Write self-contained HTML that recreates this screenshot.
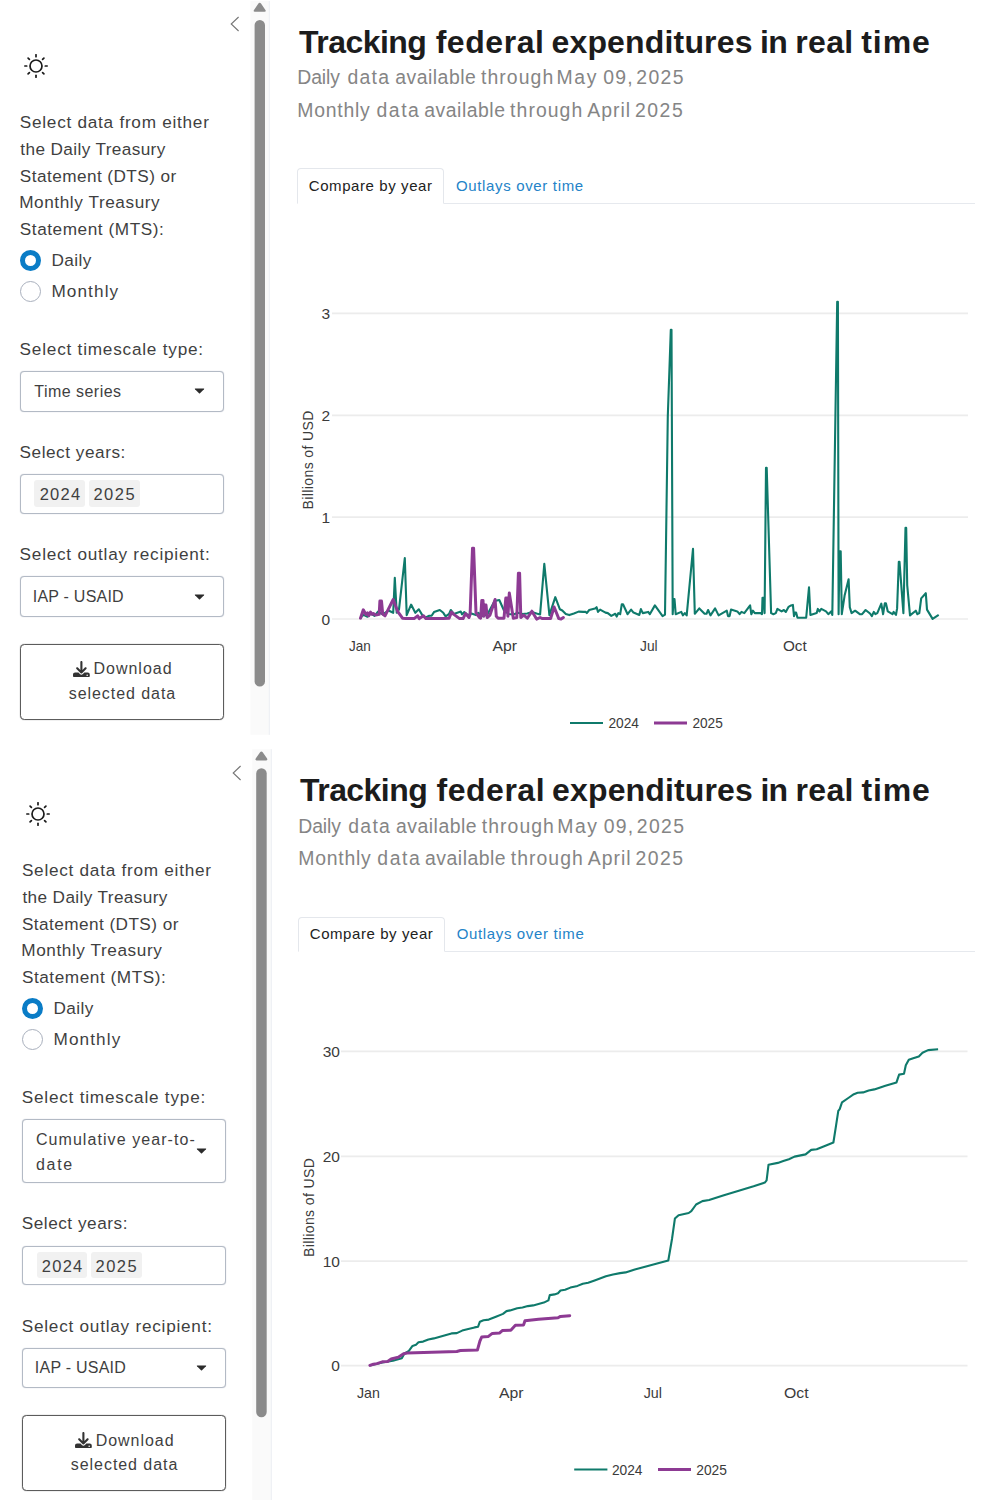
<!DOCTYPE html>
<html lang="en">
<head>
<meta charset="utf-8">
<title>Tracking federal expenditures in real time</title>
<style>
html,body{margin:0;padding:0;background:#fff;}
body{width:986px;height:1500px;position:relative;overflow:hidden;font-family:"Liberation Sans", sans-serif;}
.abs,.t,.inp,.tag,.btn,.tab,.tabline,.radio,.track,.thumb,.chart{position:absolute;box-sizing:border-box;}
.t{white-space:nowrap;line-height:1;}
.hw{margin:0;padding:0;font-size:0;font-weight:normal;}
.inp{border:1px solid #b3bac5;border-radius:4px;background:#fff;box-shadow:0 0 1px #b3bac5;}
.tag{background:#f1f1f1;border-radius:3px;}
.btn{border:1px solid #5c5c5c;border-radius:4.5px;background:#fff;box-shadow:0 0 1px #6a6a6a;}
.tab{border:1px solid #e4e7ec;border-bottom:1px solid #fff;border-radius:4px 4px 0 0;background:#fff;}
.tabline{height:1.2px;background:#e6e9ee;}
.radio{width:21.2px;height:21.2px;border-radius:50%;border:1.1px solid #a9b0bd;background:#fff;}
.radio.on{border:5.9px solid #0a7cc6;}
</style>
</head>
<body>
<svg class="abs" style="left:248px;top:0px" width="28" height="735" viewBox="248 0 28 735">
<rect x="250.40" y="1.00" width="19.40" height="733.80" fill="#fafafa"/>
<rect x="268.80" y="1.00" width="1" height="733.80" fill="#eceef3"/>
<path transform="translate(253.60 2.80)" d="M6.1 0 Q6.9 0 7.4 0.8 L11.8 7.2 Q12.8 9 11 9 H1.2 Q-0.6 9 0.4 7.2 L4.8 0.8 Q5.3 0 6.1 0Z" fill="#8b8b8b"/>
<rect x="254.60" y="19.90" width="10.40" height="666.70" rx="5.20" fill="#8b8b8b"/>
</svg>
<svg class="abs" style="left:229.9px;top:16.2px" width="10" height="16" viewBox="0 0 10 16"><path d="M8.6 1 L1.2 8 L8.6 15" fill="none" stroke="#767676" stroke-width="1.1"/></svg>
<svg class="abs" style="left:24.1px;top:54.1px" width="24" height="24" viewBox="0 0 24 24" fill="none" stroke="#1a1a1a" stroke-width="1.7" stroke-linecap="round"><circle cx="12" cy="12" r="6"/><line x1="21.30" y1="12.00" x2="23.20" y2="12.00"/><line x1="18.58" y1="18.58" x2="19.92" y2="19.92"/><line x1="12.00" y1="21.30" x2="12.00" y2="23.20"/><line x1="5.42" y1="18.58" x2="4.08" y2="19.92"/><line x1="2.70" y1="12.00" x2="0.80" y2="12.00"/><line x1="5.42" y1="5.42" x2="4.08" y2="4.08"/><line x1="12.00" y1="2.70" x2="12.00" y2="0.80"/><line x1="18.58" y1="5.42" x2="19.92" y2="4.08"/></svg>
<span class="t" id="t0" style="left:19.82px;top:114.20px;font-size:17.2px;color:#3f3f3f;font-weight:normal;letter-spacing:0.733px">Select data from either</span>
<span class="t" id="t1" style="left:20.34px;top:140.70px;font-size:17.2px;color:#3f3f3f;font-weight:normal;letter-spacing:0.379px">the Daily Treasury</span>
<span class="t" id="t2" style="left:19.82px;top:167.50px;font-size:17.2px;color:#3f3f3f;font-weight:normal;letter-spacing:0.439px">Statement (DTS) or</span>
<span class="t" id="t3" style="left:19.19px;top:193.80px;font-size:17.2px;color:#3f3f3f;font-weight:normal;letter-spacing:0.579px">Monthly Treasury</span>
<span class="t" id="t4" style="left:19.82px;top:220.60px;font-size:17.2px;color:#3f3f3f;font-weight:normal;letter-spacing:0.556px">Statement (MTS):</span>
<div class="radio on" style="left:19.8px;top:249.8px"></div>
<span class="t" id="t5" style="left:51.39px;top:252.10px;font-size:17.2px;color:#3f3f3f;font-weight:normal;letter-spacing:0.429px">Daily</span>
<div class="radio" style="left:19.8px;top:280.9px"></div>
<span class="t" id="t6" style="left:51.39px;top:283.40px;font-size:17.2px;color:#3f3f3f;font-weight:normal;letter-spacing:1.103px">Monthly</span>
<span class="t" id="t7" style="left:19.62px;top:341.10px;font-size:17.2px;color:#3f3f3f;font-weight:normal;letter-spacing:0.779px">Select timescale type:</span>
<div class="inp" style="left:20.0px;top:371.2px;width:204.0px;height:40.6px"></div>
<span class="t" id="t8" style="left:34.24px;top:383.70px;font-size:16px;color:#3f3f3f;font-weight:normal;letter-spacing:0.476px">Time series</span>
<svg class="abs" style="left:194.2px;top:388.2px" width="11" height="7" viewBox="0 0 11 7"><path d="M1.2 0.6 H9.8 Q10.6 0.6 10 1.3 L6 5.3 Q5.5 5.8 5 5.3 L1 1.3 Q0.4 0.6 1.2 0.6Z" fill="#2b2b2b"/></svg>
<span class="t" id="t9" style="left:19.62px;top:443.80px;font-size:17.2px;color:#3f3f3f;font-weight:normal;letter-spacing:0.528px">Select years:</span>
<div class="inp" style="left:20.0px;top:474.2px;width:204.0px;height:39.6px"></div>
<div class="tag" style="left:34.4px;top:480.4px;width:50.8px;height:26.6px"></div>
<div class="tag" style="left:88.5px;top:480.4px;width:51.0px;height:26.6px"></div>
<span class="t" id="t10" style="left:39.67px;top:486.05px;font-size:16.5px;color:#3f3f3f;font-weight:normal;letter-spacing:1.269px">2024</span>
<span class="t" id="t11" style="left:93.47px;top:486.05px;font-size:16.5px;color:#3f3f3f;font-weight:normal;letter-spacing:1.472px">2025</span>
<span class="t" id="t12" style="left:19.62px;top:546.40px;font-size:17.2px;color:#3f3f3f;font-weight:normal;letter-spacing:0.752px">Select outlay recipient:</span>
<div class="inp" style="left:20.0px;top:576.4px;width:204.0px;height:40.4px"></div>
<span class="t" id="t13" style="left:32.72px;top:588.70px;font-size:16px;color:#3f3f3f;font-weight:normal;letter-spacing:0.234px">IAP - USAID</span>
<svg class="abs" style="left:194.2px;top:593.8px" width="11" height="7" viewBox="0 0 11 7"><path d="M1.2 0.6 H9.8 Q10.6 0.6 10 1.3 L6 5.3 Q5.5 5.8 5 5.3 L1 1.3 Q0.4 0.6 1.2 0.6Z" fill="#2b2b2b"/></svg>
<div class="btn" style="left:20.0px;top:644.2px;width:204.0px;height:75.6px"></div>
<svg class="abs" style="left:72.9px;top:660.6px" width="16.8" height="16.8" viewBox="0 0 512 512" fill="#333" fill-rule="evenodd"><path d="M288 32c0-17.700-14.300-32-32-32s-32 14.300-32 32v242.700l-73.400-73.400c-12.500-12.500-32.800-12.500-45.300 0s-12.500 32.800 0 45.300l128 128c12.500 12.500 32.800 12.500 45.300 0l128-128c12.500-12.500 12.500-32.800 0-45.300s-32.800-12.500-45.300 0L288 274.700V32zM64 352c-35.300 0-64 28.700-64 64v32c0 35.300 28.700 64 64 64h384c35.300 0 64-28.700 64-64v-32c0-35.300-28.700-64-64-64H346.500l-45.300 45.300c-25 25-65.500 25-90.500 0L165.500 352H64zm368 56a24 24 0 1 1 0 48 24 24 0 1 1 0-48z"/></svg>
<span class="t" id="t14" style="left:93.59px;top:661.40px;font-size:16px;color:#3f3f3f;font-weight:normal;letter-spacing:0.970px">Download</span>
<span class="t" id="t15" style="left:68.75px;top:686.00px;font-size:16px;color:#3f3f3f;font-weight:normal;letter-spacing:0.939px">selected data</span>
<h1 class="hw"><span class="t" id="t16" style="left:299.04px;top:25.60px;font-size:32px;color:#1c1c1c;font-weight:bold;letter-spacing:-0.539px">Tracking</span><span class="t" id="t17" style="left:435.65px;top:25.60px;font-size:32px;color:#1c1c1c;font-weight:bold;letter-spacing:0.563px">federal</span><span class="t" id="t18" style="left:551.45px;top:25.60px;font-size:32px;color:#1c1c1c;font-weight:bold;letter-spacing:0.172px">expenditures</span><span class="t" id="t19" style="left:760.07px;top:25.60px;font-size:32px;color:#1c1c1c;font-weight:bold;letter-spacing:-0.819px">in</span><span class="t" id="t20" style="left:795.29px;top:25.60px;font-size:32px;color:#1c1c1c;font-weight:bold;letter-spacing:0.346px">real</span><span class="t" id="t21" style="left:861.31px;top:25.60px;font-size:32px;color:#1c1c1c;font-weight:bold;letter-spacing:0.896px">time</span></h1>
<p class="hw"><span class="t" id="t22" style="left:297.31px;top:68.20px;font-size:19.4px;color:#858585;font-weight:normal;letter-spacing:-0.123px">Daily</span><span class="t" id="t23" style="left:347.39px;top:68.20px;font-size:19.4px;color:#858585;font-weight:normal;letter-spacing:1.286px">data</span><span class="t" id="t24" style="left:395.18px;top:68.20px;font-size:19.4px;color:#858585;font-weight:normal;letter-spacing:0.514px">available</span><span class="t" id="t25" style="left:481.01px;top:68.20px;font-size:19.4px;color:#858585;font-weight:normal;letter-spacing:1.076px">through</span><span class="t" id="t26" style="left:556.61px;top:68.20px;font-size:19.4px;color:#858585;font-weight:normal;letter-spacing:1.590px">May</span><span class="t" id="t27" style="left:603.14px;top:68.20px;font-size:19.4px;color:#858585;font-weight:normal;letter-spacing:1.316px">09,</span><span class="t" id="t28" style="left:636.22px;top:68.20px;font-size:19.4px;color:#858585;font-weight:normal;letter-spacing:1.411px">2025</span></p>
<p class="hw"><span class="t" id="t29" style="left:297.31px;top:100.70px;font-size:19.4px;color:#858585;font-weight:normal;letter-spacing:0.767px">Monthly</span><span class="t" id="t30" style="left:376.49px;top:100.70px;font-size:19.4px;color:#858585;font-weight:normal;letter-spacing:1.552px">data</span><span class="t" id="t31" style="left:424.28px;top:100.70px;font-size:19.4px;color:#858585;font-weight:normal;letter-spacing:0.514px">available</span><span class="t" id="t32" style="left:510.11px;top:100.70px;font-size:19.4px;color:#858585;font-weight:normal;letter-spacing:1.059px">through</span><span class="t" id="t33" style="left:587.26px;top:100.70px;font-size:19.4px;color:#858585;font-weight:normal;letter-spacing:1.032px">April</span><span class="t" id="t34" style="left:634.92px;top:100.70px;font-size:19.4px;color:#858585;font-weight:normal;letter-spacing:1.544px">2025</span></p>
<div class="tabline" style="left:297.2px;top:202.6px;width:678.2px"></div>
<div class="tab" style="left:297.2px;top:168.2px;width:146.6px;height:35.4px"></div>
<span class="t" id="t35" style="left:308.74px;top:177.80px;font-size:15px;color:#222;font-weight:normal;letter-spacing:0.590px">Compare by year</span>
<span class="t" id="t36" style="left:455.89px;top:177.80px;font-size:15px;color:#2483c8;font-weight:normal;letter-spacing:0.661px">Outlays over time</span>
<svg class="chart" style="left:0;top:0" width="986" height="748" viewBox="0 0 986 748">
<line x1="332" x2="968" y1="313.4" y2="313.4" stroke="#ececec" stroke-width="1.7"/>
<line x1="332" x2="968" y1="415.3" y2="415.3" stroke="#ececec" stroke-width="1.7"/>
<line x1="332" x2="968" y1="517.1" y2="517.1" stroke="#ececec" stroke-width="1.7"/>
<line x1="332" x2="968" y1="619.0" y2="619.0" stroke="#ececec" stroke-width="1.7"/>
<text x="330.2" y="318.9" font-size="15.5" text-anchor="end" fill="#3b3b3b">3</text>
<text x="330.2" y="420.8" font-size="15.5" text-anchor="end" fill="#3b3b3b">2</text>
<text x="330.2" y="522.6" font-size="15.5" text-anchor="end" fill="#3b3b3b">1</text>
<text x="330.2" y="624.5" font-size="15.5" text-anchor="end" fill="#3b3b3b">0</text>
<text x="349.0" y="651.4" font-size="14.5" text-anchor="start" fill="#3b3b3b" textLength="21.8" lengthAdjust="spacingAndGlyphs">Jan</text>
<text x="492.4" y="651.4" font-size="14.5" text-anchor="start" fill="#3b3b3b" textLength="24.6" lengthAdjust="spacingAndGlyphs">Apr</text>
<text x="640.0" y="651.4" font-size="14.5" text-anchor="start" fill="#3b3b3b" textLength="17.6" lengthAdjust="spacingAndGlyphs">Jul</text>
<text x="782.9" y="651.4" font-size="14.5" text-anchor="start" fill="#3b3b3b" textLength="23.8" lengthAdjust="spacingAndGlyphs">Oct</text>
<text transform="translate(312.6,460) rotate(-90)" font-size="14" text-anchor="middle" fill="#3b3b3b" textLength="99" lengthAdjust="spacing">Billions of USD</text>
<polyline fill="none" stroke="#0f7a6b" stroke-width="2.1" stroke-linejoin="round" points="360.5,618.2 362.1,615.8 364.0,615.1 367.5,616.8 371.0,613.5 374.5,615.8 378.0,611.6 382.7,614.4 388.5,610.5 393.2,612.8 394.8,577.8 396.7,612.8 399.0,609.3 404.8,558.0 406.7,615.1 411.1,604.6 415.3,612.8 418.8,609.3 422.3,615.1 425.8,617.5 429.3,615.8 431.6,615.8 434.0,612.1 439.8,610.0 443.3,612.8 445.6,616.3 449.1,614.0 450.8,610.0 453.8,614.0 457.3,612.8 460.8,611.6 462.0,614.4 464.3,612.1 467.8,615.1 471.3,613.5 476.0,615.1 478.3,612.8 483.0,616.3 487.6,614.0 494.6,601.1 499.3,600.0 504.0,610.5 508.6,614.0 513.3,614.4 518.0,612.8 522.6,614.0 527.3,613.5 531.9,612.1 536.6,613.5 540.1,614.4 544.3,563.8 549.4,615.1 555.3,597.2 559.9,609.3 562.3,610.5 565.8,614.0 569.3,615.1 573.9,613.5 578.6,611.6 583.3,611.9 585.7,611.9 586.8,613.1 589.2,610.0 595.0,608.6 596.6,607.2 598.0,611.9 600.1,609.6 605.5,612.6 607.8,613.1 611.3,615.9 615.3,613.8 616.7,616.6 618.3,613.1 620.2,614.2 621.8,604.2 623.0,604.2 627.6,614.2 631.1,609.6 633.5,612.6 639.3,614.9 640.9,609.1 642.8,613.1 648.2,611.9 649.8,614.2 654.9,605.4 662.6,616.1 665.0,614.7 667.8,416.0 670.8,329.7 671.5,329.7 672.7,614.2 673.6,599.1 674.5,599.1 675.7,614.2 681.3,611.9 682.9,615.4 684.8,613.1 686.7,615.4 693.0,548.9 694.8,613.8 699.3,608.4 704.6,613.8 706.5,613.8 708.1,610.0 710.5,615.4 715.1,608.4 718.6,615.4 726.8,610.7 728.0,616.1 729.6,616.1 731.0,609.6 737.3,611.4 739.6,614.2 741.5,611.9 744.3,613.1 750.1,605.4 751.3,614.2 752.9,610.7 754.8,613.1 760.6,613.1 762.0,614.2 762.5,597.9 763.4,597.9 764.6,613.1 766.0,467.7 766.7,467.7 771.1,613.1 773.4,614.2 775.8,613.1 777.4,608.9 781.6,611.4 783.9,610.0 785.8,611.9 788.6,606.8 791.0,605.4 792.9,604.9 794.0,616.1 795.0,612.6 796.1,612.6 797.5,617.7 806.2,617.7 809.0,587.4 810.4,614.9 816.7,613.1 817.8,608.9 819.5,611.4 821.3,608.9 826.0,611.4 828.3,614.2 831.1,611.4 832.3,614.9 834.1,499.9 837.2,301.7 837.9,301.7 838.6,614.2 839.5,551.3 840.7,551.3 841.8,614.2 844.6,595.6 848.6,579.2 849.8,607.2 851.6,613.1 855.1,610.7 859.8,614.2 862.1,614.2 865.6,610.0 870.3,613.8 871.9,616.1 873.8,611.9 875.4,614.2 877.3,613.1 881.3,603.7 883.1,614.2 884.8,603.3 885.9,603.3 887.8,611.4 892.5,614.2 893.6,611.9 896.0,614.9 897.1,608.4 898.8,561.8 899.5,561.8 903.4,613.1 905.5,527.9 906.2,527.9 907.2,585.1 910.0,615.4 915.8,610.7 917.4,614.2 919.3,613.1 921.2,598.4 925.8,593.2 927.0,609.6 932.6,618.9 936.8,616.1 938.7,614.9"/>
<polyline fill="none" stroke="#8d3a93" stroke-width="3.0" stroke-linejoin="round" stroke-linecap="round" points="360.5,618.2 363.3,609.8 365.9,614.4 367.5,612.8 368.7,615.8 370.5,612.1 372.2,614.4 373.3,613.5 375.7,615.1 379.2,614.4 379.9,601.1 381.5,601.1 382.7,614.0 385.0,615.8 393.2,599.5 395.5,605.8 397.8,611.6 402.5,618.2 406.0,618.6 414.1,618.6 417.6,615.8 419.3,618.6 423.5,615.8 425.8,618.6 443.3,618.6 449.1,618.2 451.5,612.1 453.8,614.4 459.6,618.6 463.1,618.6 465.5,613.5 469.0,617.5 470.1,614.4 472.5,548.2 473.6,548.2 476.0,612.8 479.5,617.5 480.6,618.2 481.8,600.4 483.0,600.4 483.7,616.3 484.8,605.1 486.0,605.1 487.2,617.5 490.0,615.1 495.1,599.5 496.3,616.3 498.1,618.2 504.0,618.2 505.8,598.1 507.0,598.1 507.9,616.3 509.3,593.0 513.3,618.2 516.8,617.5 518.4,573.2 519.6,573.2 520.8,617.5 523.8,615.1 527.3,618.2 531.9,611.2 536.6,619.1 540.1,617.5 542.4,618.6 550.6,618.6 554.1,607.0 558.8,618.6 561.1,619.1 563.4,617.5"/>
<line x1="570" x2="603" y1="723" y2="723" stroke="#0f7a6b" stroke-width="2"/>
<text x="608.4" y="728.4" font-size="14" text-anchor="start" fill="#3b3b3b" textLength="30.6" lengthAdjust="spacingAndGlyphs">2024</text>
<line x1="654" x2="687" y1="723" y2="723" stroke="#8d3a93" stroke-width="3.2"/>
<text x="692.4" y="728.4" font-size="14" text-anchor="start" fill="#3b3b3b" textLength="30.4" lengthAdjust="spacingAndGlyphs">2025</text>
</svg>
<svg class="abs" style="left:250px;top:748px" width="28" height="753" viewBox="250 748 28 753">
<rect x="252.20" y="749.20" width="19.60" height="750.80" fill="#fafafa"/>
<rect x="270.80" y="749.20" width="1" height="750.80" fill="#eceef3"/>
<path transform="translate(255.30 751.40)" d="M6.1 0 Q6.9 0 7.4 0.8 L11.8 7.2 Q12.8 9 11 9 H1.2 Q-0.6 9 0.4 7.2 L4.8 0.8 Q5.3 0 6.1 0Z" fill="#8b8b8b"/>
<rect x="256.20" y="768.30" width="10.50" height="648.90" rx="5.25" fill="#8b8b8b"/>
</svg>
<svg class="abs" style="left:231.7px;top:765.2px" width="10" height="16" viewBox="0 0 10 16"><path d="M8.6 1 L1.2 8 L8.6 15" fill="none" stroke="#767676" stroke-width="1.1"/></svg>
<svg class="abs" style="left:26.2px;top:802.1px" width="24" height="24" viewBox="0 0 24 24" fill="none" stroke="#1a1a1a" stroke-width="1.7" stroke-linecap="round"><circle cx="12" cy="12" r="6"/><line x1="21.30" y1="12.00" x2="23.20" y2="12.00"/><line x1="18.58" y1="18.58" x2="19.92" y2="19.92"/><line x1="12.00" y1="21.30" x2="12.00" y2="23.20"/><line x1="5.42" y1="18.58" x2="4.08" y2="19.92"/><line x1="2.70" y1="12.00" x2="0.80" y2="12.00"/><line x1="5.42" y1="5.42" x2="4.08" y2="4.08"/><line x1="12.00" y1="2.70" x2="12.00" y2="0.80"/><line x1="18.58" y1="5.42" x2="19.92" y2="4.08"/></svg>
<span class="t" id="t37" style="left:21.92px;top:862.20px;font-size:17.2px;color:#3f3f3f;font-weight:normal;letter-spacing:0.733px">Select data from either</span>
<span class="t" id="t38" style="left:22.44px;top:888.70px;font-size:17.2px;color:#3f3f3f;font-weight:normal;letter-spacing:0.379px">the Daily Treasury</span>
<span class="t" id="t39" style="left:21.92px;top:915.50px;font-size:17.2px;color:#3f3f3f;font-weight:normal;letter-spacing:0.439px">Statement (DTS) or</span>
<span class="t" id="t40" style="left:21.29px;top:941.80px;font-size:17.2px;color:#3f3f3f;font-weight:normal;letter-spacing:0.579px">Monthly Treasury</span>
<span class="t" id="t41" style="left:21.92px;top:968.60px;font-size:17.2px;color:#3f3f3f;font-weight:normal;letter-spacing:0.556px">Statement (MTS):</span>
<div class="radio on" style="left:21.9px;top:997.8px"></div>
<span class="t" id="t42" style="left:53.49px;top:1000.10px;font-size:17.2px;color:#3f3f3f;font-weight:normal;letter-spacing:0.429px">Daily</span>
<div class="radio" style="left:21.9px;top:1028.9px"></div>
<span class="t" id="t43" style="left:53.49px;top:1031.40px;font-size:17.2px;color:#3f3f3f;font-weight:normal;letter-spacing:1.103px">Monthly</span>
<span class="t" id="t44" style="left:21.72px;top:1089.10px;font-size:17.2px;color:#3f3f3f;font-weight:normal;letter-spacing:0.779px">Select timescale type:</span>
<div class="inp" style="left:22.1px;top:1119.2px;width:204.0px;height:64.0px"></div>
<span class="t" id="t45" style="left:35.89px;top:1131.70px;font-size:16px;color:#3f3f3f;font-weight:normal;letter-spacing:1.073px">Cumulative year-to-</span>
<span class="t" id="t46" style="left:36.03px;top:1156.90px;font-size:16px;color:#3f3f3f;font-weight:normal;letter-spacing:1.681px">date</span>
<svg class="abs" style="left:196.3px;top:1148.0px" width="11" height="7" viewBox="0 0 11 7"><path d="M1.2 0.6 H9.8 Q10.6 0.6 10 1.3 L6 5.3 Q5.5 5.8 5 5.3 L1 1.3 Q0.4 0.6 1.2 0.6Z" fill="#2b2b2b"/></svg>
<span class="t" id="t47" style="left:21.72px;top:1215.30px;font-size:17.2px;color:#3f3f3f;font-weight:normal;letter-spacing:0.528px">Select years:</span>
<div class="inp" style="left:22.1px;top:1245.7px;width:204.0px;height:39.6px"></div>
<div class="tag" style="left:36.5px;top:1251.9px;width:50.8px;height:26.6px"></div>
<div class="tag" style="left:90.6px;top:1251.9px;width:51.0px;height:26.6px"></div>
<span class="t" id="t48" style="left:41.77px;top:1257.55px;font-size:16.5px;color:#3f3f3f;font-weight:normal;letter-spacing:1.269px">2024</span>
<span class="t" id="t49" style="left:95.57px;top:1257.55px;font-size:16.5px;color:#3f3f3f;font-weight:normal;letter-spacing:1.472px">2025</span>
<span class="t" id="t50" style="left:21.72px;top:1317.90px;font-size:17.2px;color:#3f3f3f;font-weight:normal;letter-spacing:0.752px">Select outlay recipient:</span>
<div class="inp" style="left:22.1px;top:1347.9px;width:204.0px;height:40.4px"></div>
<span class="t" id="t51" style="left:34.82px;top:1360.20px;font-size:16px;color:#3f3f3f;font-weight:normal;letter-spacing:0.234px">IAP - USAID</span>
<svg class="abs" style="left:196.3px;top:1365.3px" width="11" height="7" viewBox="0 0 11 7"><path d="M1.2 0.6 H9.8 Q10.6 0.6 10 1.3 L6 5.3 Q5.5 5.8 5 5.3 L1 1.3 Q0.4 0.6 1.2 0.6Z" fill="#2b2b2b"/></svg>
<div class="btn" style="left:22.1px;top:1414.5px;width:204.0px;height:76.4px"></div>
<svg class="abs" style="left:75.0px;top:1431.7px" width="16.8" height="16.8" viewBox="0 0 512 512" fill="#333" fill-rule="evenodd"><path d="M288 32c0-17.700-14.300-32-32-32s-32 14.300-32 32v242.700l-73.400-73.400c-12.500-12.500-32.800-12.500-45.300 0s-12.500 32.800 0 45.300l128 128c12.500 12.500 32.800 12.500 45.300 0l128-128c12.500-12.500 12.500-32.800 0-45.300s-32.800-12.500-45.300 0L288 274.700V32zM64 352c-35.300 0-64 28.700-64 64v32c0 35.300 28.700 64 64 64h384c35.300 0 64-28.700 64-64v-32c0-35.300-28.700-64-64-64H346.500l-45.300 45.300c-25 25-65.500 25-90.500 0L165.500 352H64zm368 56a24 24 0 1 1 0 48 24 24 0 1 1 0-48z"/></svg>
<span class="t" id="t52" style="left:95.69px;top:1432.50px;font-size:16px;color:#3f3f3f;font-weight:normal;letter-spacing:0.970px">Download</span>
<span class="t" id="t53" style="left:70.85px;top:1457.10px;font-size:16px;color:#3f3f3f;font-weight:normal;letter-spacing:0.939px">selected data</span>
<h1 class="hw"><span class="t" id="t54" style="left:300.04px;top:773.90px;font-size:32px;color:#1c1c1c;font-weight:bold;letter-spacing:-0.566px">Tracking</span><span class="t" id="t55" style="left:436.45px;top:773.90px;font-size:32px;color:#1c1c1c;font-weight:bold;letter-spacing:0.536px">federal</span><span class="t" id="t56" style="left:552.07px;top:773.90px;font-size:32px;color:#1c1c1c;font-weight:bold;letter-spacing:0.145px">expenditures</span><span class="t" id="t57" style="left:760.38px;top:773.90px;font-size:32px;color:#1c1c1c;font-weight:bold;letter-spacing:-0.853px">in</span><span class="t" id="t58" style="left:795.55px;top:773.90px;font-size:32px;color:#1c1c1c;font-weight:bold;letter-spacing:0.319px">real</span><span class="t" id="t59" style="left:861.48px;top:773.90px;font-size:32px;color:#1c1c1c;font-weight:bold;letter-spacing:0.863px">time</span></h1>
<p class="hw"><span class="t" id="t60" style="left:298.31px;top:816.50px;font-size:19.4px;color:#858585;font-weight:normal;letter-spacing:-0.138px">Daily</span><span class="t" id="t61" style="left:348.31px;top:816.50px;font-size:19.4px;color:#858585;font-weight:normal;letter-spacing:1.265px">data</span><span class="t" id="t62" style="left:396.03px;top:816.50px;font-size:19.4px;color:#858585;font-weight:normal;letter-spacing:0.499px">available</span><span class="t" id="t63" style="left:481.74px;top:816.50px;font-size:19.4px;color:#858585;font-weight:normal;letter-spacing:1.059px">through</span><span class="t" id="t64" style="left:557.23px;top:816.50px;font-size:19.4px;color:#858585;font-weight:normal;letter-spacing:1.562px">May</span><span class="t" id="t65" style="left:603.69px;top:816.50px;font-size:19.4px;color:#858585;font-weight:normal;letter-spacing:1.296px">09,</span><span class="t" id="t66" style="left:636.72px;top:816.50px;font-size:19.4px;color:#858585;font-weight:normal;letter-spacing:1.388px">2025</span></p>
<p class="hw"><span class="t" id="t67" style="left:298.31px;top:849.00px;font-size:19.4px;color:#858585;font-weight:normal;letter-spacing:0.749px">Monthly</span><span class="t" id="t68" style="left:377.37px;top:849.00px;font-size:19.4px;color:#858585;font-weight:normal;letter-spacing:1.532px">data</span><span class="t" id="t69" style="left:425.09px;top:849.00px;font-size:19.4px;color:#858585;font-weight:normal;letter-spacing:0.499px">available</span><span class="t" id="t70" style="left:510.79px;top:849.00px;font-size:19.4px;color:#858585;font-weight:normal;letter-spacing:1.042px">through</span><span class="t" id="t71" style="left:587.84px;top:849.00px;font-size:19.4px;color:#858585;font-weight:normal;letter-spacing:1.016px">April</span><span class="t" id="t72" style="left:635.43px;top:849.00px;font-size:19.4px;color:#858585;font-weight:normal;letter-spacing:1.522px">2025</span></p>
<div class="tabline" style="left:298.2px;top:950.9px;width:677.2px"></div>
<div class="tab" style="left:298.2px;top:916.5px;width:146.6px;height:35.4px"></div>
<span class="t" id="t73" style="left:309.72px;top:926.10px;font-size:15px;color:#222;font-weight:normal;letter-spacing:0.577px">Compare by year</span>
<span class="t" id="t74" style="left:456.66px;top:926.10px;font-size:15px;color:#2483c8;font-weight:normal;letter-spacing:0.649px">Outlays over time</span>
<svg class="chart" style="left:0;top:748px" width="986" height="752" viewBox="0 748 986 752">
<line x1="341" x2="967.5" y1="1051.3" y2="1051.3" stroke="#ececec" stroke-width="1.7"/>
<line x1="341" x2="967.5" y1="1156.3" y2="1156.3" stroke="#ececec" stroke-width="1.7"/>
<line x1="341" x2="967.5" y1="1261.2" y2="1261.2" stroke="#ececec" stroke-width="1.7"/>
<line x1="341" x2="967.5" y1="1365.6" y2="1365.6" stroke="#ececec" stroke-width="1.7"/>
<text x="339.9" y="1056.8" font-size="15.5" text-anchor="end" fill="#3b3b3b">30</text>
<text x="339.9" y="1161.8" font-size="15.5" text-anchor="end" fill="#3b3b3b">20</text>
<text x="339.9" y="1266.7" font-size="15.5" text-anchor="end" fill="#3b3b3b">10</text>
<text x="339.9" y="1371.1" font-size="15.5" text-anchor="end" fill="#3b3b3b">0</text>
<text x="357.0" y="1398.2" font-size="14.5" text-anchor="start" fill="#3b3b3b" textLength="22.9" lengthAdjust="spacingAndGlyphs">Jan</text>
<text x="499.0" y="1398.2" font-size="14.5" text-anchor="start" fill="#3b3b3b" textLength="24.6" lengthAdjust="spacingAndGlyphs">Apr</text>
<text x="643.7" y="1398.2" font-size="14.5" text-anchor="start" fill="#3b3b3b" textLength="18.3" lengthAdjust="spacingAndGlyphs">Jul</text>
<text x="784.0" y="1398.2" font-size="14.5" text-anchor="start" fill="#3b3b3b" textLength="24.6" lengthAdjust="spacingAndGlyphs">Oct</text>
<text transform="translate(314,1207.6) rotate(-90)" font-size="14" text-anchor="middle" fill="#3b3b3b" textLength="99" lengthAdjust="spacing">Billions of USD</text>
<polyline fill="none" stroke="#0f7a6b" stroke-width="2.1" stroke-linejoin="round" points="369.9,1365.4 382.3,1362.5 392.9,1360.8 401.8,1358.3 404.3,1353.7 408.9,1350.8 412.5,1345.9 416.0,1344.8 418.5,1342.3 423.1,1341.6 428.4,1339.5 433.8,1338.4 442.6,1335.9 451.5,1333.4 456.8,1333.1 462.2,1330.6 469.3,1328.8 474.6,1327.4 478.1,1326.7 479.9,1321.7 483.5,1320.3 488.8,1319.6 495.9,1316.8 503.0,1313.9 506.5,1311.1 510.1,1310.4 517.2,1308.2 522.5,1307.5 527.8,1306.1 533.2,1305.4 538.5,1304.0 543.8,1302.6 548.4,1300.4 549.8,1295.1 554.5,1294.4 558.0,1293.3 560.5,1290.5 565.1,1289.8 570.4,1287.6 577.5,1285.9 582.8,1283.7 588.2,1282.7 595.3,1280.2 605.9,1276.3 613.0,1274.5 620.1,1273.1 625.6,1272.4 634.8,1269.4 646.0,1266.5 657.1,1263.5 668.3,1260.5 672.0,1239.0 674.9,1218.6 678.6,1215.2 688.7,1213.0 691.3,1211.2 696.1,1204.5 702.4,1201.1 709.1,1200.0 723.9,1195.2 738.8,1190.8 753.6,1186.3 764.8,1182.6 766.6,1180.4 768.5,1164.8 777.8,1162.9 783.3,1161.1 788.9,1159.2 794.5,1156.6 805.6,1154.4 811.2,1149.9 816.7,1149.2 824.2,1146.2 833.4,1142.5 836.0,1125.8 838.3,1110.9 839.7,1109.1 842.0,1102.4 848.3,1098.0 853.9,1094.2 857.6,1092.8 863.1,1092.4 868.7,1090.5 874.3,1089.4 885.4,1085.7 896.5,1082.4 899.1,1074.6 904.0,1073.8 905.8,1065.3 908.8,1059.7 913.2,1058.2 918.8,1056.4 922.5,1052.7 928.1,1050.1 938.1,1049.3"/>
<polyline fill="none" stroke="#8d3a93" stroke-width="3.0" stroke-linejoin="round" stroke-linecap="round" points="369.9,1365.4 373.4,1364.3 377.0,1363.6 382.3,1361.8 387.6,1361.5 391.2,1359.0 398.3,1357.2 403.6,1353.7 407.1,1353.0 456.8,1351.5 460.4,1350.5 477.4,1350.1 479.9,1341.2 481.7,1337.0 488.1,1336.6 492.3,1333.4 499.4,1333.1 502.3,1330.6 510.8,1330.2 515.4,1325.3 523.6,1324.9 525.0,1320.7 538.5,1319.2 558.0,1317.8 560.5,1316.4 569.7,1315.7"/>
<line x1="574.2" x2="607.4" y1="1469.5" y2="1469.5" stroke="#0f7a6b" stroke-width="2"/>
<text x="611.9" y="1474.8" font-size="14" text-anchor="start" fill="#3b3b3b" textLength="30.6" lengthAdjust="spacingAndGlyphs">2024</text>
<line x1="658" x2="691" y1="1469.5" y2="1469.5" stroke="#8d3a93" stroke-width="3.2"/>
<text x="696.3" y="1474.8" font-size="14" text-anchor="start" fill="#3b3b3b" textLength="30.6" lengthAdjust="spacingAndGlyphs">2025</text>
</svg>
</body>
</html>
